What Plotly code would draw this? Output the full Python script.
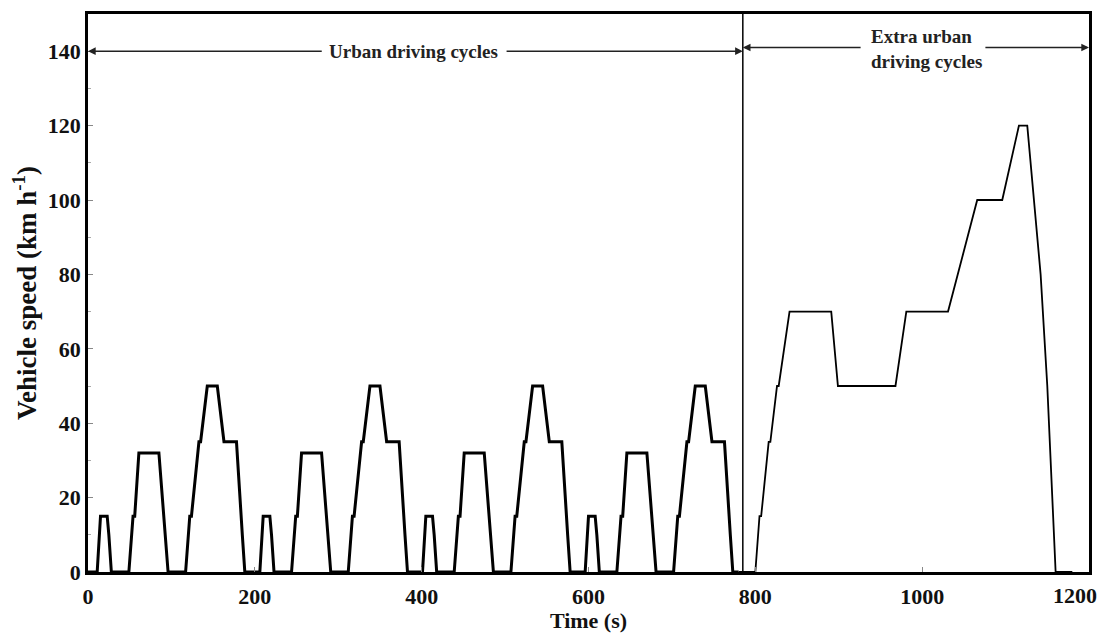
import plotly.graph_objects as go

# Urban part: four repeated ECE-15 cycles (time in s, speed in km/h)
urban_time = [
    0, 11, 15, 23, 25, 28, 49, 54, 56, 61, 85, 93, 96, 117, 122, 124, 133, 135, 143, 155, 163, 176, 178, 185, 188,
    195, 206, 210, 218, 220, 223, 244, 249, 251, 256, 280, 288, 291, 312, 317, 319, 328, 330, 338, 350, 358, 371, 373, 380, 383,
    390, 401, 405, 413, 415, 418, 439, 444, 446, 451, 475, 483, 486, 507, 512, 514, 523, 525, 533, 545, 553, 566, 568, 575, 578,
    585, 596, 600, 608, 610, 613, 634, 639, 641, 646, 670, 678, 681, 702, 707, 709, 718, 720, 728, 740, 748, 761, 763, 770, 773,
    780,
]
urban_speed = [
    0, 0, 15, 15, 10, 0, 0, 15, 15, 32, 32, 10, 0, 0, 15, 15, 35, 35, 50, 50, 35, 35, 35, 10, 0,
    0, 0, 15, 15, 10, 0, 0, 15, 15, 32, 32, 10, 0, 0, 15, 15, 35, 35, 50, 50, 35, 35, 35, 10, 0,
    0, 0, 15, 15, 10, 0, 0, 15, 15, 32, 32, 10, 0, 0, 15, 15, 35, 35, 50, 50, 35, 35, 35, 10, 0,
    0, 0, 15, 15, 10, 0, 0, 15, 15, 32, 32, 10, 0, 0, 15, 15, 35, 35, 50, 50, 35, 35, 35, 10, 0,
    0,
]

# Extra urban driving cycle (EUDC)
extra_time = [780, 800, 805, 807, 816, 818, 826, 828, 841, 891, 899, 968, 981, 1031,
              1066, 1096, 1116, 1126, 1142, 1150, 1160, 1180]
extra_speed = [0, 0, 15, 15, 35, 35, 50, 50, 70, 70, 50, 50, 70, 70,
               100, 100, 120, 120, 80, 50, 0, 0]

boundary_time = 785
x_ticks = [0, 200, 400, 600, 800, 1000]
x_last_tick = 1200
y_ticks = [0, 20, 40, 60, 80, 100, 120, 140]

FONT = "Liberation Serif"

fig = go.Figure()
fig.add_trace(go.Scatter(x=urban_time, y=urban_speed, mode="lines",
                         line=dict(color="black", width=3), showlegend=False))
fig.add_trace(go.Scatter(x=extra_time, y=extra_speed, mode="lines",
                         line=dict(color="black", width=1.8), showlegend=False))

# divider between the two parts of the cycle
fig.add_shape(type="line", x0=boundary_time, x1=boundary_time, y0=0, y1=150,
              xref="x", yref="y", line=dict(color="black", width=1.5))

arrow = dict(xref="x", yref="y", axref="x", ayref="y", text="", showarrow=True,
             arrowhead=2, arrowsize=1.1, arrowwidth=1.4, arrowcolor="#222")
# Urban span arrows
fig.add_annotation(x=0, y=140, ax=282, ay=140, **arrow)
fig.add_annotation(x=boundary_time, y=140, ax=500, ay=140, **arrow)
# Extra urban span arrows
fig.add_annotation(x=boundary_time, y=141, ax=928, ay=141, **arrow)
fig.add_annotation(x=1200, y=141, ax=1074, ay=141, **arrow)

lab_font = dict(family=FONT, size=19, color="#222")
fig.add_annotation(x=390, y=140, xref="x", yref="y", text="<b>Urban driving cycles</b>",
                   showarrow=False, font=lab_font)
fig.add_annotation(x=1005, y=140.5, xref="x", yref="y",
                   text="<b>Extra urban<br>driving cycles</b>",
                   showarrow=False, font=lab_font, align="left")

tick_font = dict(family=FONT, size=22, color="#111")
axis_common = dict(showline=True, linecolor="black", linewidth=2.5, mirror=True,
                   ticks="inside", ticklen=5, tickcolor="#888", tickwidth=1,
                   showgrid=False, zeroline=False, tickfont=tick_font, automargin=False)

fig.update_xaxes(range=[0, 1200], tickvals=x_ticks,
                 ticktext=[f"<b>{v}</b>" for v in x_ticks],
                 ticklabelstandoff=3,
                 title=dict(text="<b>Time (s)</b>", standoff=6,
                            font=dict(family=FONT, size=22, color="#111")),
                 **axis_common)
fig.update_yaxes(range=[0, 150], tickvals=y_ticks,
                 ticktext=[f"<b>{v}</b>" for v in y_ticks],
                 minor=dict(ticks="inside", dtick=10, ticklen=3, tickcolor="#aaa"),
                 title=dict(text="<b>Vehicle speed (km h<sup>-1</sup>)</b>", standoff=4,
                            font=dict(family=FONT, size=27, color="#111")),
                 **axis_common)

# last x tick label sits just inside the page edge
fig.add_annotation(x=x_last_tick, y=0, xref="x", yref="y", text=f"<b>{x_last_tick}</b>",
                   showarrow=False, font=tick_font, yanchor="top", xanchor="center",
                   xshift=-14, yshift=-9)

fig.update_layout(width=1106, height=633, paper_bgcolor="white", plot_bgcolor="white",
                  margin=dict(l=88, r=17, t=14, b=61), showlegend=False)

fig.write_html("out.html")
